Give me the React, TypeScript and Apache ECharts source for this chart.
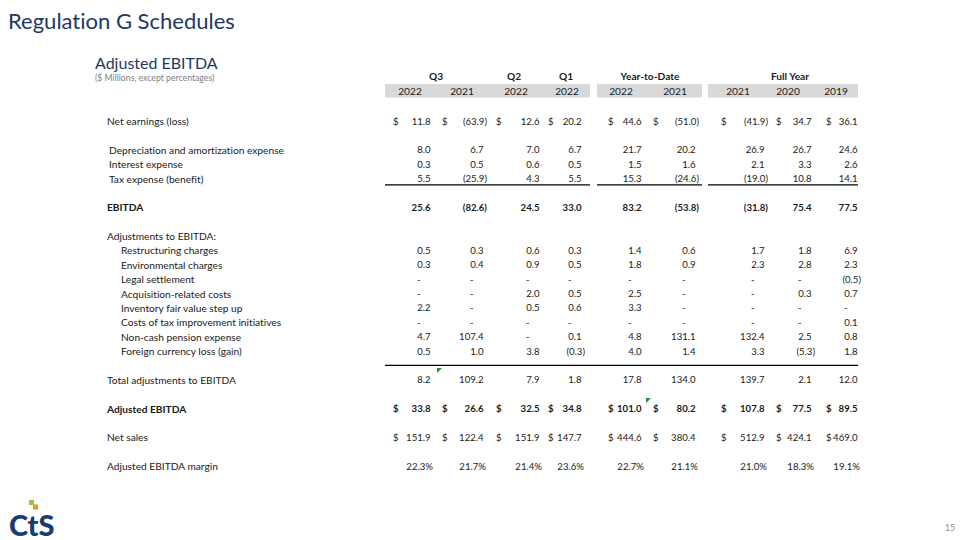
import { useEffect, useRef } from "react";
import * as echarts from "echarts";

// ---------- DATA ----------
const groupHeaders = ["Q3", "Q2", "Q1", "Year-to-Date", "Full Year"];
const yearHeaders = ["2022", "2021", "2022", "2022", "2022", "2021", "2021", "2020", "2019"];

const netEarnings = [11.8, -63.9, 12.6, 20.2, 44.6, -51.0, -41.9, 34.7, 36.1];
const depreciation = [8.0, 6.7, 7.0, 6.7, 21.7, 20.2, 26.9, 26.7, 24.6];
const interestExpense = [0.3, 0.5, 0.6, 0.5, 1.5, 1.6, 2.1, 3.3, 2.6];
const taxExpense = [5.5, -25.9, 4.3, 5.5, 15.3, -24.6, -19.0, 10.8, 14.1];
const ebitda = [25.6, -82.6, 24.5, 33.0, 83.2, -53.8, -31.8, 75.4, 77.5];
const restructuring = [0.5, 0.3, 0.6, 0.3, 1.4, 0.6, 1.7, 1.8, 6.9];
const environmental = [0.3, 0.4, 0.9, 0.5, 1.8, 0.9, 2.3, 2.8, 2.3];
const legalSettlement = [null, null, null, null, null, null, null, null, -0.5];
const acquisitionCosts = [null, null, 2.0, 0.5, 2.5, null, null, 0.3, 0.7];
const inventoryStepUp = [2.2, null, 0.5, 0.6, 3.3, null, null, null, null];
const taxImprovement = [null, null, null, null, null, null, null, null, 0.1];
const pensionExpense = [4.7, 107.4, null, 0.1, 4.8, 131.1, 132.4, 2.5, 0.8];
const fxLossGain = [0.5, 1.0, 3.8, -0.3, 4.0, 1.4, 3.3, -5.3, 1.8];
const totalAdjustments = [8.2, 109.2, 7.9, 1.8, 17.8, 134.0, 139.7, 2.1, 12.0];
const adjustedEbitda = [33.8, 26.6, 32.5, 34.8, 101.0, 80.2, 107.8, 77.5, 89.5];
const netSales = [151.9, 122.4, 151.9, 147.7, 444.6, 380.4, 512.9, 424.1, 469.0];
const ebitdaMargin = [22.3, 21.7, 21.4, 23.6, 22.7, 21.1, 21.0, 18.3, 19.1];

type Row = {
  label: string;
  values?: (number | null)[];
  kind?: "dollar" | "plain" | "pct";
  bold?: boolean;
  indent?: number;
};

// each entry is one table line (blank lines included)
const rows: Row[] = [
  { label: "Net earnings (loss)", values: netEarnings, kind: "dollar" },
  { label: "" },
  { label: "Depreciation and amortization expense", values: depreciation, indent: 1 },
  { label: "Interest expense", values: interestExpense, indent: 1 },
  { label: "Tax expense (benefit)", values: taxExpense, indent: 1 },
  { label: "" },
  { label: "EBITDA", values: ebitda, bold: true },
  { label: "" },
  { label: "Adjustments to EBITDA:" },
  { label: "Restructuring charges", values: restructuring, indent: 2 },
  { label: "Environmental charges", values: environmental, indent: 2 },
  { label: "Legal settlement", values: legalSettlement, indent: 2 },
  { label: "Acquisition-related costs", values: acquisitionCosts, indent: 2 },
  { label: "Inventory fair value step up", values: inventoryStepUp, indent: 2 },
  { label: "Costs of tax improvement initiatives", values: taxImprovement, indent: 2 },
  { label: "Non-cash pension expense", values: pensionExpense, indent: 2 },
  { label: "Foreign currency loss (gain)", values: fxLossGain, indent: 2 },
  { label: "" },
  { label: "Total adjustments to EBITDA", values: totalAdjustments },
  { label: "" },
  { label: "Adjusted EBITDA", values: adjustedEbitda, kind: "dollar", bold: true },
  { label: "" },
  { label: "Net sales", values: netSales, kind: "dollar" },
  { label: "" },
  { label: "Adjusted EBITDA margin", values: ebitdaMargin, kind: "pct" },
];

// ---------- LAYOUT ----------
const FONT = "Lato, 'Noto Sans', sans-serif";
const TEXT = "#1a1a1a";
const NAVY = "#1F3864";
const FS_LABEL = 10.2;
const FS_NUM = 9.6;
const ROW_H = 14.375; // px per table line
const FIRST_ROW_Y = 121; // pixel y of first table line
const colRight = [434, 487, 543, 585, 645, 699, 768, 815, 861];
const colDollar = [393, 442, 496, 548, 608, 653, 721, 776, 826];
const yearCenter = [410, 462, 516, 567, 621, 675, 738, 788, 836];
const groupCenter = [436, 514, 566, 650, 790];
const bandRanges = [[385, 590], [597, 702], [708, 858]];
const labelX = [107, 109, 121];
const PAREN_W = 3.4;
const DASH_PAD = 10;
const GROUP_ROW = -3.1;
const YEAR_ROW = -2.1;

type Cell = { x: number; row: number; text: string; align: string; bold: boolean; fs: number };

function fmt(v: number | null, kind?: string) {
  if (v === null) return "-";
  if (kind === "pct") return v.toFixed(1) + "%";
  if (v < 0) return "(" + Math.abs(v).toFixed(1) + ")";
  return v.toFixed(1);
}

function buildCells(): Cell[] {
  const cells: Cell[] = [];
  groupHeaders.forEach((g, i) =>
    cells.push({ x: groupCenter[i], row: GROUP_ROW, text: g, align: "center", bold: true, fs: FS_LABEL })
  );
  yearHeaders.forEach((y, i) =>
    cells.push({ x: yearCenter[i], row: YEAR_ROW, text: y, align: "center", bold: false, fs: FS_LABEL })
  );
  rows.forEach((r, ri) => {
    if (r.label) {
      cells.push({ x: labelX[r.indent || 0], row: ri, text: r.label, align: "left", bold: !!r.bold, fs: FS_LABEL });
    }
    if (!r.values) return;
    r.values.forEach((v, ci) => {
      let x = colRight[ci];
      if (r.kind === "pct") x = colRight[ci] - 1;
      else if (v === null) x = colRight[ci] - PAREN_W - DASH_PAD;
      else if (v >= 0) x = colRight[ci] - PAREN_W;
      cells.push({ x, row: ri, text: fmt(v, r.kind), align: "right", bold: !!r.bold, fs: FS_NUM });
      if (r.kind === "dollar") {
        cells.push({ x: colDollar[ci], row: ri, text: "$", align: "left", bold: !!r.bold, fs: FS_NUM });
      }
    });
  });
  return cells;
}

const rules = [
  ...bandRanges.map((b) => [b[0], b[1], 4.45]),
  [385, 858, 17.0],
];

export default function App() {
  const ref = useRef<HTMLDivElement>(null);
  useEffect(() => {
    document.body.style.margin = "0";
    if (!ref.current) return;
    const chart = echarts.init(ref.current, null, { renderer: "svg" });
    const cells = buildCells();
    const yMin = -FIRST_ROW_Y / ROW_H;
    const yMax = (540 - FIRST_ROW_Y) / ROW_H;

    chart.setOption({
      animation: false,
      backgroundColor: "#ffffff",
      grid: { left: 0, right: 0, top: 0, bottom: 0, containLabel: false },
      xAxis: { type: "value", min: 0, max: 960, show: false },
      yAxis: { type: "value", min: yMin, max: yMax, inverse: true, show: false },
      graphic: [
        {
          type: "text", x: 8, y: 20,
          style: { text: "Regulation G Schedules", fill: NAVY, fontSize: 22, fontFamily: FONT, textVerticalAlign: "middle", verticalAlign: "middle" },
        },
        {
          type: "text", x: 95, y: 62,
          style: { text: "Adjusted EBITDA", fill: NAVY, fontSize: 16, fontFamily: FONT, textVerticalAlign: "middle", verticalAlign: "middle" },
        },
        {
          type: "text", x: 95, y: 77,
          style: { text: "($ Millions, except percentages)", fill: "#808080", fontSize: 8.7, fontFamily: FONT, textVerticalAlign: "middle", verticalAlign: "middle" },
        },
        { type: "rect", z: 1, shape: { x: 29, y: 500, width: 5, height: 5 }, style: { fill: "#8DC63F" } },
        { type: "rect", z: 1, shape: { x: 33, y: 504.5, width: 5, height: 5 }, style: { fill: "#F7941D" } },
        {
          type: "text", x: 9, y: 524, z: 2,
          style: { text: "CtS", fill: "#1B3C6E", fontSize: 29, fontWeight: 900, fontFamily: FONT, textVerticalAlign: "middle", verticalAlign: "middle" },
        },
        {
          type: "text", x: 950, y: 528,
          style: { text: "15", fill: "#8c8c8c", fontSize: 8.5, fontFamily: FONT, textAlign: "center", align: "center", textVerticalAlign: "middle", verticalAlign: "middle" },
        },
        { type: "polygon", shape: { points: [[437, 368], [442, 368], [437, 373]] }, style: { fill: "#2E8B3A" } },
        { type: "polygon", shape: { points: [[646, 398], [651, 398], [646, 403]] }, style: { fill: "#2E8B3A" } },
      ],
      series: [
        {
          type: "custom",
          name: "bands",
          coordinateSystem: "cartesian2d",
          clip: false,
          silent: true,
          data: bandRanges.map((b) => [b[0], b[1], YEAR_ROW]),
          renderItem: (params: any, api: any) => {
            const x0 = api.value(0), x1 = api.value(1), r = api.value(2);
            const p0 = api.coord([x0, r - 0.47]);
            const p1 = api.coord([x1, r + 0.47]);
            return {
              type: "rect",
              shape: { x: p0[0], y: Math.min(p0[1], p1[1]), width: p1[0] - p0[0], height: Math.abs(p1[1] - p0[1]) },
              style: { fill: "#D9D9D9" },
            };
          },
          z: 1,
        },
        {
          type: "custom",
          name: "rules",
          coordinateSystem: "cartesian2d",
          clip: false,
          silent: true,
          data: rules,
          renderItem: (params: any, api: any) => {
            const p0 = api.coord([api.value(0), api.value(2)]);
            const p1 = api.coord([api.value(1), api.value(2)]);
            return {
              type: "line",
              shape: { x1: p0[0], y1: p0[1], x2: p1[0], y2: p1[1] },
              style: { stroke: "#000000", lineWidth: 1.2 },
            };
          },
          z: 2,
        },
        {
          type: "custom",
          name: "cells",
          coordinateSystem: "cartesian2d",
          clip: false,
          silent: true,
          data: cells.map((c) => [c.x, c.row]),
          renderItem: (params: any, api: any) => {
            const c = cells[params.dataIndex];
            const p = api.coord([api.value(0), api.value(1)]);
            return {
              type: "text",
              x: p[0],
              y: p[1],
              style: {
                text: c.text,
                fill: TEXT,
                fontSize: c.fs,
                fontFamily: FONT,
                fontWeight: c.bold ? "bold" : "normal",
                align: c.align,
                textAlign: c.align,
                verticalAlign: "middle",
                textVerticalAlign: "middle",
              },
            };
          },
          z: 3,
        },
      ],
    });
    return () => chart.dispose();
  }, []);
  return (
    <div
      ref={ref}
      style={{ position: "absolute", left: 0, top: 0, width: 960, height: 540, fontVariantLigatures: "none" }}
    />
  );
}
